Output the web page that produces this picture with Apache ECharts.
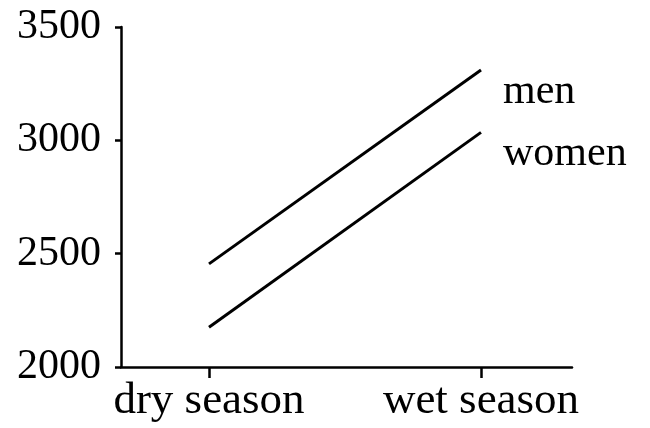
<!DOCTYPE html>
<html>
<head>
<meta charset="utf-8">
<script src="https://cdn.jsdelivr.net/npm/echarts@6/dist/echarts.min.js"></script>
<style>
  html, body { margin: 0; padding: 0; background: #fff; }
  #chart { width: 650px; height: 428px; }
</style>
</head>
<body>
<div id="chart"></div>
<script>
const seasons = ['dry season', 'wet season']
const men = [2455, 3310]
const women = [2175, 3035]
const yTicks = [2000, 2500, 3000, 3500]

const font = 'Liberation Serif'

const chart = echarts.init(document.getElementById('chart'))

const makeSeries = (name, values) => ({
  name: name,
  type: 'line',
  symbol: 'none',
  data: values.map((v, i) => [i, v]),
  lineStyle: { color: '#000', width: 3 },
  endLabel: {
    show: true,
    formatter: '{a}',
    color: '#000',
    fontFamily: font,
    fontSize: 42,
    distance: 22,
    offset: [0, 22],
    align: 'left'
  },
  animation: false
})

chart.setOption({
  grid: { left: 121, right: 78, top: 27, bottom: 61 },
  xAxis: {
    type: 'value',
    min: -0.3235,
    max: 1.3346,
    splitLine: { show: false },
    axisLine: { onZero: false, lineStyle: { color: '#000', width: 2.5 } },
    axisTick: {
      customValues: seasons.map((s, i) => i),
      length: 11,
      lineStyle: { color: '#000', width: 2.5 }
    },
    axisLabel: {
      customValues: seasons.map((s, i) => i),
      formatter: v => seasons[Math.round(v)],
      color: '#000',
      fontFamily: font,
      fontSize: 45,
      margin: 12
    }
  },
  yAxis: {
    type: 'value',
    min: yTicks[0],
    max: yTicks[yTicks.length - 1],
    interval: 500,
    splitLine: { show: false },
    axisLine: { show: true, onZero: false, lineStyle: { color: '#000', width: 2.5 } },
    axisTick: { show: true, length: 6, lineStyle: { color: '#000', width: 2.5 } },
    axisLabel: {
      formatter: v => String(v),
      color: '#000',
      fontFamily: font,
      fontSize: 42,
      margin: 20
    }
  },
  series: [makeSeries('men', men), makeSeries('women', women)]
})
</script>
</body>
</html>
